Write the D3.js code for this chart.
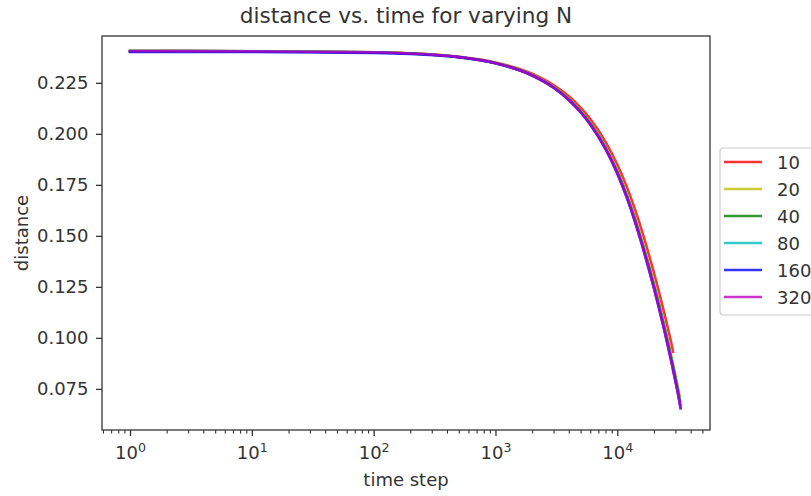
<!DOCTYPE html>
<html>
<head>
<meta charset="utf-8">
<script src="https://cdn.jsdelivr.net/npm/d3@7"></script>
<style>
  html, body { margin: 0; padding: 0; background: #fff; }
  svg { display: block; }
  text { font-family: "DejaVu Sans", sans-serif; fill: #333; }
</style>
</head>
<body>
<svg id="chart" width="811" height="496"></svg>
<script>
// ---- data ----
const seriesNames = ["10", "20", "40", "80", "160", "320"];
const seriesColors = ["#ff0000", "#bfbf00", "#008000", "#00bfbf", "#0000ff", "#bf00bf"];
const timeSteps = [1, 10, 100, 200, 500, 1000, 2000, 3000, 4000, 5000, 6000, 8000, 10000, 12000, 14000, 16000, 18000, 20000, 22000, 24000, 26000, 28000, 30000, 32000];
const dist10  = [0.2406,0.2405,0.2400,0.2395,0.2378,0.2350,0.2295,0.2239,0.2184,0.2128,0.2072,0.1961,0.1850,0.1739,0.1628,0.1521,0.1417,0.1319,0.1225,0.1135,0.1048,0.0964,null,null];
const dist20  = [0.2406,0.2405,0.2400,0.2395,0.2377,0.2347,0.2289,0.2230,0.2172,0.2113,0.2055,0.1938,0.1821,0.1703,0.1588,0.1476,0.1370,0.1269,0.1172,0.1079,0.0991,0.0904,0.0819,0.0737];
const dist40  = [0.2406,0.2405,0.2400,0.2394,0.2376,0.2347,0.2288,0.2229,0.2170,0.2110,0.2051,0.1933,0.1815,0.1697,0.1580,0.1467,0.1360,0.1259,0.1162,0.1069,0.0979,0.0892,0.0807,0.0724];
const dist80  = [0.2406,0.2405,0.2400,0.2394,0.2376,0.2346,0.2287,0.2227,0.2168,0.2108,0.2049,0.1930,0.1811,0.1692,0.1575,0.1461,0.1354,0.1252,0.1155,0.1061,0.0971,0.0884,0.0798,0.0715];
const dist160 = [0.2402,0.2401,0.2397,0.2392,0.2376,0.2346,0.2286,0.2226,0.2166,0.2106,0.2046,0.1926,0.1806,0.1686,0.1568,0.1454,0.1346,0.1244,0.1146,0.1052,0.0962,0.0874,0.0788,0.0704];
const dist320 = [0.2406,0.2405,0.2400,0.2394,0.2376,0.2346,0.2286,0.2226,0.2166,0.2106,0.2046,0.1926,0.1806,0.1686,0.1568,0.1454,0.1346,0.1244,0.1146,0.1052,0.0962,0.0874,0.0788,0.0704];
const lastStep = [28700, 32500, 32800, 33000, 33100, 33100];
const lastDistance = [0.0932, 0.0716, 0.0690, 0.0673, 0.0656, 0.0655];
const yTicks = [0.075, 0.100, 0.125, 0.150, 0.175, 0.200, 0.225];
const xMajorTicks = [1, 10, 100, 1000, 10000];
const xMinorTicks = [0.6,0.7,0.8,0.9, 2,3,4,5,6,7,8,9, 20,30,40,50,60,70,80,90, 200,300,400,500,600,700,800,900, 2000,3000,4000,5000,6000,7000,8000,9000, 20000,30000,40000,50000];
const xExponents = ["0", "1", "2", "3", "4"];

const allSeries = [dist10, dist20, dist40, dist80, dist160, dist320];

// ---- layout ----
const svg = d3.select("#chart");
const L = 102, R = 710, T = 36, B = 430;

const x = d3.scaleLog().domain([Math.pow(10, -0.2299), Math.pow(10, 4.7611)]).range([L, R]);
const y = d3.scaleLinear().domain([0.05485, 0.24796]).range([B, T]);

// x axis major
const xAxis = svg.append("g").attr("transform", `translate(0,${B})`)
  .call(d3.axisBottom(x).tickValues(xMajorTicks).tickSize(6).tickPadding(10).tickFormat(() => ""));
xAxis.select(".domain").remove();
xAxis.selectAll(".tick line").attr("stroke", "#333").attr("stroke-width", 1.3);
xAxis.selectAll(".tick text").each(function(d, i) {
  const t = d3.select(this).attr("font-size", 18).attr("font-family", "DejaVu Sans").attr("fill", "#333");
  t.text(null);
  t.append("tspan").text("10");
  t.append("tspan").attr("font-size", 12.6).attr("dy", -7).text(xExponents[i]);
});
// x axis minor
const xMinor = svg.append("g").attr("transform", `translate(0,${B})`)
  .call(d3.axisBottom(x).tickValues(xMinorTicks).tickSize(3.6).tickFormat(() => ""));
xMinor.select(".domain").remove();
xMinor.selectAll(".tick line").attr("stroke", "#333").attr("stroke-width", 1.1);

// y axis
const yAxis = svg.append("g").attr("transform", `translate(${L},0)`)
  .call(d3.axisLeft(y).tickValues(yTicks).tickSize(6).tickPadding(7.5).tickFormat(d3.format(".3f")));
yAxis.select(".domain").remove();
yAxis.selectAll(".tick line").attr("stroke", "#333").attr("stroke-width", 1.3);
yAxis.selectAll(".tick text").attr("font-size", 18).attr("font-family", "DejaVu Sans").attr("fill", "#333");

// lines
const line = d3.line()
  .x(d => x(d.t)).y(d => y(d.v))
  .curve(d3.curveMonotoneX);

allSeries.forEach((vals, i) => {
  const pts = timeSteps.map((t, j) => ({ t: t, v: vals[j] })).filter(p => p.v !== null);
  pts.push({ t: lastStep[i], v: lastDistance[i] });
  svg.append("path")
    .datum(pts)
    .attr("d", line)
    .attr("fill", "none")
    .attr("stroke", seriesColors[i])
    .attr("stroke-opacity", 0.8)
    .attr("stroke-width", 2.6)
    .attr("stroke-linecap", "square")
    .attr("stroke-linejoin", "round");
});

// spines
svg.append("rect")
  .attr("x", L).attr("y", T).attr("width", R - L).attr("height", B - T)
  .attr("fill", "none").attr("stroke", "#333").attr("stroke-width", 1.3);

// title and labels
svg.append("text").attr("x", (L + R) / 2).attr("y", 23).attr("text-anchor", "middle")
  .attr("font-size", 21.6).text("distance vs. time for varying N");
svg.append("text").attr("x", (L + R) / 2).attr("y", 486).attr("text-anchor", "middle")
  .attr("font-size", 18).text("time step");
svg.append("text").attr("transform", `translate(28,${(T + B) / 2}) rotate(-90)`).attr("text-anchor", "middle")
  .attr("font-size", 18).text("distance");

// legend
const lg = svg.append("g");
lg.append("rect").attr("x", 720).attr("y", 148).attr("width", 110).attr("height", 167)
  .attr("rx", 3.5).attr("fill", "#fff").attr("fill-opacity", 0.8)
  .attr("stroke", "#cccccc").attr("stroke-width", 1.2);
seriesNames.forEach((n, i) => {
  const cy = 162 + i * 27;
  lg.append("line").attr("x1", 724).attr("x2", 762).attr("y1", cy).attr("y2", cy)
    .attr("stroke", seriesColors[i]).attr("stroke-opacity", 0.8).attr("stroke-width", 2.6);
  lg.append("text").attr("x", 777).attr("y", cy + 6.5).attr("font-size", 18).text(n);
});
</script>
</body>
</html>
